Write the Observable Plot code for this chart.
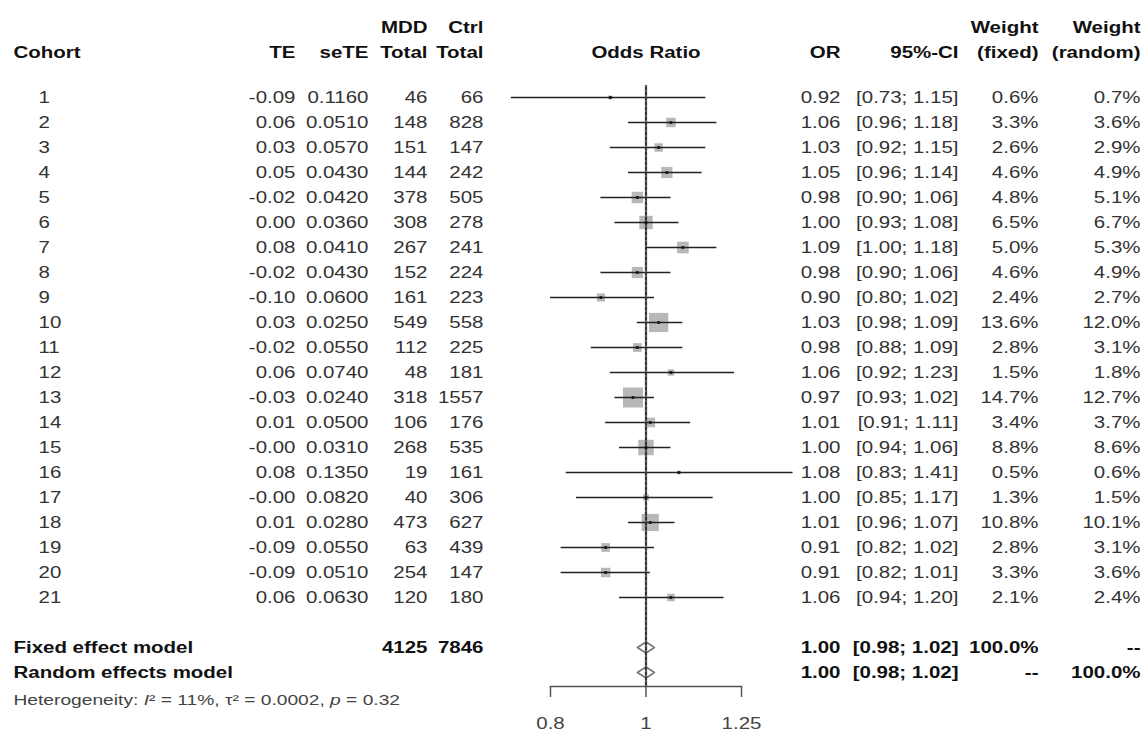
<!DOCTYPE html>
<html><head><meta charset="utf-8">
<script src="https://cdn.jsdelivr.net/npm/d3@7"></script>
<script src="https://cdn.jsdelivr.net/npm/@observablehq/plot@0.6"></script>
<style>
html,body{margin:0;padding:0;background:#fff;}
#chart{position:relative;width:1145px;height:731px;overflow:hidden;background:#fff;}
#chart svg{position:absolute;left:0;top:0;}
</style></head><body><div id="chart"></div>
<script>
// ---------- data ----------
const cohorts = ["1","2","3","4","5","6","7","8","9","10","11","12","13","14","15","16","17","18","19","20","21"];
const te = ["-0.09","0.06","0.03","0.05","-0.02","0.00","0.08","-0.02","-0.10","0.03","-0.02","0.06","-0.03","0.01","-0.00","0.08","-0.00","0.01","-0.09","-0.09","0.06"];
const seTE = [0.1160,0.0510,0.0570,0.0430,0.0420,0.0360,0.0410,0.0430,0.0600,0.0250,0.0550,0.0740,0.0240,0.0500,0.0310,0.1350,0.0820,0.0280,0.0550,0.0510,0.0630];
const mddTotal = [46,148,151,144,378,308,267,152,161,549,112,48,318,106,268,19,40,473,63,254,120];
const ctrlTotal = [66,828,147,242,505,278,241,224,223,558,225,181,1557,176,535,161,306,627,439,147,180];
const oddsRatio = [0.92,1.06,1.03,1.05,0.98,1.00,1.09,0.98,0.90,1.03,0.98,1.06,0.97,1.01,1.00,1.08,1.00,1.01,0.91,0.91,1.06];
const ciLower = [0.73,0.96,0.92,0.96,0.90,0.93,1.00,0.90,0.80,0.98,0.88,0.92,0.93,0.91,0.94,0.83,0.85,0.96,0.82,0.82,0.94];
const ciUpper = [1.15,1.18,1.15,1.14,1.06,1.08,1.18,1.06,1.02,1.09,1.09,1.23,1.02,1.11,1.06,1.41,1.17,1.07,1.02,1.01,1.20];
const weightFixed = [0.6,3.3,2.6,4.6,4.8,6.5,5.0,4.6,2.4,13.6,2.8,1.5,14.7,3.4,8.8,0.5,1.3,10.8,2.8,3.3,2.1];
const weightRandom = [0.7,3.6,2.9,4.9,5.1,6.7,5.3,4.9,2.7,12.0,3.1,1.8,12.7,3.7,8.6,0.6,1.5,10.1,3.1,3.6,2.4];

const modelNames = ["Fixed effect model", "Random effects model"];
const modelOR = [1.00, 1.00];
const modelLower = [0.98, 0.98];
const modelUpper = [1.02, 1.02];
const modelMddTotal = ["4125", ""];
const modelCtrlTotal = ["7846", ""];
const modelWeightFixed = ["100.0%", "--"];
const modelWeightRandom = ["--", "100.0%"];
const heterogeneity = "Heterogeneity: I² = 11%, τ² = 0.0002, p = 0.32";
const axisTicks = [0.8, 1, 1.25];
const forestHeader = "Odds Ratio";

// ---------- layout ----------
const W = 1145, H = 731;
const FONT = "'Liberation Sans', Arial, Helvetica, sans-serif";
const STRETCH = 1.28;
const yScale = {domain: [1, 24], range: [97, 672], axis: null};
const HEAD1 = -1.78, HEAD2 = -0.8, HET_ROW = 25.1;

const studies = cohorts.map((c, i) => ({
  row: i + 1, cohort: c, te: te[i], se: seTE[i], mdd: mddTotal[i], ctrl: ctrlTotal[i],
  or: oddsRatio[i], lo: ciLower[i], hi: ciUpper[i], wf: weightFixed[i], wr: weightRandom[i]
}));
const models = modelNames.map((m, i) => ({
  row: 23 + i, name: m, or: modelOR[i], lo: modelLower[i], hi: modelUpper[i],
  mdd: modelMddTotal[i], ctrl: modelCtrlTotal[i], wf: modelWeightFixed[i], wr: modelWeightRandom[i]
}));
const ci = d => `[${d.lo.toFixed(2)}; ${d.hi.toFixed(2)}]`;

const columns = [
  {right: 295, head: ["", "TE"], study: d => d.te, model: d => ""},
  {right: 368, head: ["", "seTE"], study: d => d.se.toFixed(4), model: d => ""},
  {right: 427, head: ["MDD", "Total"], study: d => String(d.mdd), model: d => d.mdd},
  {right: 483, head: ["Ctrl", "Total"], study: d => String(d.ctrl), model: d => d.ctrl},
  {right: 840, head: ["", "OR"], study: d => d.or.toFixed(2), model: d => d.or.toFixed(2)},
  {right: 958, head: ["", "95%-CI"], study: ci, model: ci},
  {right: 1038, head: ["Weight", "(fixed)"], study: d => d.wf.toFixed(1) + "%", model: d => d.wf},
  {right: 1140, head: ["Weight", "(random)"], study: d => d.wr.toFixed(1) + "%", model: d => d.wr}
];

const baseStyle = {fontFamily: FONT, fontSize: "16px", background: "transparent", overflow: "visible"};
const chart = document.getElementById("chart");
const svgs = [];

// Cohort column
svgs.push(Plot.plot({
  width: W, height: H, marginLeft: 13, marginRight: W - 300, marginTop: 0, marginBottom: 0,
  y: yScale, style: baseStyle,
  marks: [
    Plot.text(["Cohort"], {y: HEAD2, text: d => d, frameAnchor: "left", fontWeight: "bold", fill: "#111"}),
    Plot.text(studies, {y: "row", text: "cohort", frameAnchor: "left", dx: 25, fill: "#333"}),
    Plot.text(models, {y: "row", text: "name", frameAnchor: "left", fontWeight: "bold", fill: "#111"}),
    Plot.text([heterogeneity], {y: HET_ROW, text: d => d, frameAnchor: "left", fontSize: 15, fill: "#444"})
  ]
}));

// value columns
for (const col of columns) {
  const heads = col.head.map((h, i) => ({row: i === 0 ? HEAD1 : HEAD2, label: h})).filter(d => d.label);
  svgs.push(Plot.plot({
    width: W, height: H, marginLeft: 0, marginRight: W - col.right, marginTop: 0, marginBottom: 0,
    y: yScale, style: baseStyle,
    marks: [
      Plot.text(heads, {y: "row", text: "label", frameAnchor: "right", fontWeight: "bold", fill: "#111"}),
      Plot.text(studies, {y: "row", text: col.study, frameAnchor: "right", fill: "#333"}),
      Plot.text(models, {y: "row", text: col.model, frameAnchor: "right", fontWeight: "bold", fill: "#111"})
    ]
  }));
}

// forest panel
const diamonds = models.flatMap(m => [
  {model: m.name, x: m.lo, y: m.row},
  {model: m.name, x: m.or, y: m.row - 0.22},
  {model: m.name, x: m.hi, y: m.row},
  {model: m.name, x: m.or, y: m.row + 0.22},
  {model: m.name, x: m.lo, y: m.row}
]);
svgs.push(Plot.plot({
  width: W, height: H, marginLeft: 550, marginRight: W - 741, marginTop: 85, marginBottom: H - 686,
  x: {type: "log", domain: [d3.min(axisTicks), d3.max(axisTicks)]},
  y: yScale,
  r: {type: "sqrt", domain: [0, d3.max(weightFixed)], range: [0, 11.3]},
  style: baseStyle,
  marks: [
    Plot.text([forestHeader], {y: HEAD2, text: d => d, frameAnchor: "middle", fontWeight: "bold", fill: "#111"}),
    Plot.dot(studies, {x: "or", y: "row", r: "wf", symbol: "square", fill: "#b8b8b8", stroke: null}),
    Plot.ruleY(studies, {x1: "lo", x2: "hi", y: "row", stroke: "#222", strokeWidth: 1.6}),
    Plot.line(diamonds, {x: "x", y: "y", z: "model", fill: "white", stroke: "#777", strokeWidth: 1.5}),
    Plot.ruleX([1], {stroke: "#333", strokeWidth: 2.2}),
    Plot.ruleX([1], {stroke: "#888", strokeWidth: 1, strokeDasharray: "2,3"}),
    Plot.dot(studies, {x: "or", y: "row", r: 1.5, symbol: "square", fill: "#111", stroke: null}),
    Plot.frame({anchor: "bottom", stroke: "#555", strokeWidth: 1.5}),
    Plot.axisX({ticks: axisTicks, tickFormat: d => String(d), tickSize: 11, tickPadding: 20, label: null, stroke: "#555", strokeWidth: 1.5, fill: "#444"})
  ]
}));

for (const svg of svgs) {
  svg.style.position = "absolute";
  svg.style.left = "0px";
  svg.style.top = "0px";
  chart.appendChild(svg);
}

// horizontal stretch of glyphs around each text's anchor point
for (const t of chart.querySelectorAll("text")) {
  const tr = t.getAttribute("transform");
  if (tr) t.setAttribute("transform", tr + ` scale(${STRETCH},1)`);
}

// italic I and p in heterogeneity line
for (const t of chart.querySelectorAll("text")) {
  if (t.textContent === heterogeneity) {
    const parts = ["Heterogeneity: ", ["I"], "² = 11%, τ² = 0.0002, ", ["p"], " = 0.32"];
    t.textContent = "";
    for (const p of parts) {
      const ts = document.createElementNS("http://www.w3.org/2000/svg", "tspan");
      if (Array.isArray(p)) { ts.textContent = p[0]; ts.setAttribute("font-style", "italic"); }
      else ts.textContent = p;
      t.appendChild(ts);
    }
  }
}
</script></body></html>
